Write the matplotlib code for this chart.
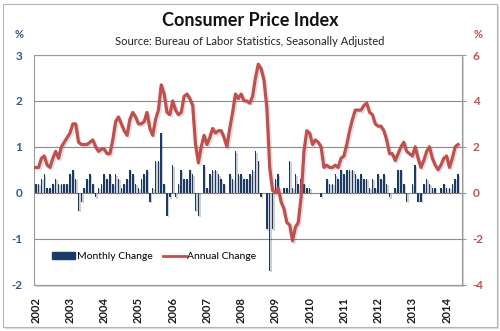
import numpy as np
import matplotlib.pyplot as plt
import matplotlib.patheffects as pe
from matplotlib.patches import Rectangle
from matplotlib.lines import Line2D

plt.rcParams['font.family'] = ['Lato', 'DejaVu Sans']

# CPI-U, Jan 2002 - May 2014, percent
monthly_change = [
    0.2, 0.2, 0.3, 0.4, 0.1, 0.1, 0.2, 0.3, 0.2, 0.2, 0.2, 0.2,      # 2002
    0.4, 0.5, 0.3, -0.4, -0.2, 0.1, 0.3, 0.4, 0.2, -0.1, 0.1, 0.2,   # 2003
    0.4, 0.3, 0.4, 0.2, 0.4, 0.3, 0.1, 0.2, 0.3, 0.5, 0.4, 0.2,      # 2004
    0.1, 0.3, 0.4, 0.5, -0.2, 0.1, 0.7, 0.7, 1.3, 0.2, -0.5, -0.1,   # 2005
    0.6, -0.1, 0.2, 0.5, 0.3, 0.3, 0.5, 0.4, -0.4, -0.5, 0.0, 0.6,   # 2006
    0.1, 0.4, 0.5, 0.5, 0.4, 0.3, 0.2, 0.0, 0.4, 0.3, 0.9, 0.4,      # 2007
    0.4, 0.3, 0.3, 0.4, 0.5, 0.9, 0.7, -0.1, 0.0, -0.8, -1.7, -0.8,  # 2008
    0.3, 0.4, 0.0, 0.1, 0.1, 0.7, 0.1, 0.4, 0.2, 0.3, 0.2, 0.1,      # 2009
    0.1, 0.0, 0.0, 0.0, -0.1, 0.0, 0.3, 0.2, 0.2, 0.4, 0.3, 0.5,     # 2010
    0.4, 0.5, 0.5, 0.5, 0.4, 0.3, 0.4, 0.3, 0.3, 0.1, 0.3, 0.1,      # 2011
    0.4, 0.3, 0.4, 0.2, -0.1, 0.0, 0.1, 0.5, 0.5, 0.2, -0.2, 0.0,    # 2012
    0.2, 0.6, -0.2, -0.2, 0.2, 0.3, 0.2, 0.1, 0.1, 0.0, 0.1, 0.2,    # 2013
    0.1, 0.1, 0.2, 0.3, 0.4,                                         # 2014
]

annual_change = [
    1.1, 1.1, 1.5, 1.6, 1.2, 1.1, 1.5, 1.8, 1.5, 2.0, 2.2, 2.4,
    2.6, 3.0, 3.0, 2.2, 2.1, 2.1, 2.1, 2.2, 2.3, 2.0, 1.8, 1.9,
    1.9, 1.7, 1.7, 2.3, 3.1, 3.3, 3.0, 2.7, 2.5, 3.2, 3.5, 3.3,
    3.0, 3.0, 3.1, 3.5, 2.8, 2.5, 3.2, 3.6, 4.7, 4.3, 3.5, 3.4,
    4.0, 3.6, 3.4, 3.5, 4.2, 4.3, 4.1, 3.8, 2.1, 1.3, 2.0, 2.5,
    2.1, 2.4, 2.8, 2.6, 2.7, 2.7, 2.4, 2.0, 2.8, 3.5, 4.3, 4.1,
    4.3, 4.0, 4.0, 3.9, 4.2, 5.0, 5.6, 5.4, 4.9, 3.7, 1.1, 0.1,
    0.0, 0.2, -0.4, -0.7, -1.3, -1.4, -2.1, -1.5, -1.3, -0.2, 1.8, 2.7,
    2.6, 2.1, 2.3, 2.2, 2.0, 1.1, 1.2, 1.1, 1.1, 1.2, 1.1, 1.5,
    1.6, 2.1, 2.7, 3.2, 3.6, 3.6, 3.6, 3.8, 3.9, 3.5, 3.4, 3.0,
    2.9, 2.9, 2.7, 2.3, 1.7, 1.7, 1.4, 1.7, 2.0, 2.2, 1.8, 1.7,
    1.6, 2.0, 1.5, 1.1, 1.4, 1.8, 2.0, 1.5, 1.2, 1.0, 1.2, 1.5,
    1.6, 1.1, 1.5, 2.0, 2.1,
]

years = list(range(2002, 2015))
left_ticks = [-2, -1, 0, 1, 2, 3]
right_ticks = [-4, -2, 0, 2, 4, 6]

bar_color = '#1C3A66'
line_color = '#C0504D'
blue_txt = '#2F5B8C'

x = np.arange(len(monthly_change))

fig = plt.figure(figsize=(5, 3.31), dpi=100)

# outer frame with a soft shadow
fig.patches.append(Rectangle((5 / 500, 2 / 331), 494 / 500, 323 / 331, transform=fig.transFigure,
                             facecolor='#DDDDDD', edgecolor='none', zorder=-3))
fig.patches.append(Rectangle((3 / 500, 4 / 331), 494 / 500, 323 / 331, transform=fig.transFigure,
                             facecolor='white', edgecolor='#B5B5B5', lw=0.8, zorder=-2))

ax_rect = [34.3 / 500, 1 - 284.5 / 331, 428 / 500, 229.5 / 331]
# plot area shadow
fig.patches.append(Rectangle((ax_rect[0] + 2 / 500, ax_rect[1] - 2 / 331), ax_rect[2], ax_rect[3],
                             transform=fig.transFigure, facecolor='#D5D5D5', edgecolor='none', zorder=-1))

ax = fig.add_axes(ax_rect)
ax.bar(x, monthly_change, width=0.55, color=bar_color, zorder=3,
       path_effects=[pe.SimplePatchShadow(offset=(1, -1), alpha=0.2), pe.Normal()])
ax.set_xlim(-0.5, 149.5)
ax.set_ylim(-2, 3)
ax.set_yticks(left_ticks)
ax.set_yticklabels([str(t) for t in left_ticks])
ax.yaxis.grid(True, color='#8C8C8C', lw=0.8)
ax.set_axisbelow(True)
ax.tick_params(axis='y', length=0, pad=8.5, labelsize=8.5, labelcolor=blue_txt)
for lab in ax.get_yticklabels():
    lab.set_fontweight('bold')
ax.set_xticks(x[::12])
ax.set_xticklabels([str(y) for y in years], rotation=90, fontsize=8, fontweight='bold', color='#1A1A1A')
ax.tick_params(axis='x', length=0, pad=9)
for s in ax.spines.values():
    s.set_color('#9A9A9A')
    s.set_linewidth(0.8)

ax2 = ax.twinx()
ax2.plot(x, annual_change, color=line_color, lw=2.3, solid_joinstyle='round',
         path_effects=[pe.SimpleLineShadow(offset=(1.2, -1.2), alpha=0.18, shadow_color='#555555'), pe.Normal()])
ax2.set_ylim(-4, 6)
ax2.set_yticks(right_ticks)
ax2.set_yticklabels([str(t) for t in right_ticks])
ax2.tick_params(axis='y', length=3, color='#9A9A9A', pad=4.5, labelsize=8.5, labelcolor=line_color)
for lab in ax2.get_yticklabels():
    lab.set_fontweight('bold')
for s in ax2.spines.values():
    s.set_visible(False)

handles = [Rectangle((0, 0), 1, 1, color=bar_color), Line2D([], [], color=line_color, lw=2)]
ax2.legend(handles, ['Monthly Change', 'Annual Change'], loc='center left', bbox_to_anchor=(0.02, 0.12),
           ncol=2, frameon=False, fontsize=7.5, handlelength=2.2, handleheight=0.6,
           handletextpad=0.15, columnspacing=1.0)

fig.text(0.5, 1 - 20 / 331, 'Consumer Price Index', ha='center', va='center', fontsize=13,
         fontweight='bold', color='#111111')
fig.text(0.5, 1 - 41.5 / 331, 'Source: Bureau of Labor Statistics, Seasonally Adjusted', ha='center',
         va='center', fontsize=8, color='#222222')
fig.text(19 / 500, 1 - 35 / 331, '%', ha='center', va='center', fontsize=8, fontweight='bold', color=blue_txt)
fig.text(478 / 500, 1 - 35 / 331, '%', ha='center', va='center', fontsize=8, fontweight='bold', color=line_color)

fig.savefig('out.png', dpi=100)
